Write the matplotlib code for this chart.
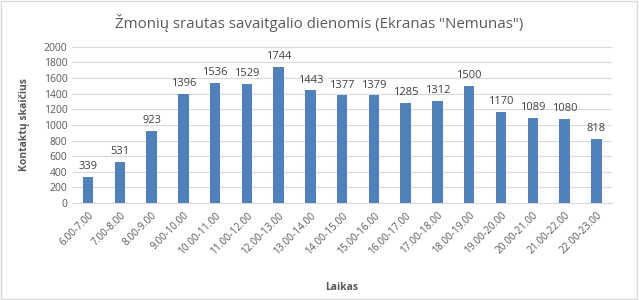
import matplotlib.pyplot as plt

laikas = ['6.00-7.00', '7.00-8.00', '8.00-9.00', '9.00-10.00', '10.00-11.00',
          '11.00-12.00', '12.00-13.00', '13.00-14.00', '14.00-15.00', '15.00-16.00',
          '16.00-17.00', '17.00-18.00', '18.00-19.00', '19.00-20.00', '20.00-21.00',
          '21.00-22.00', '22.00-23.00']
kontaktai = [339, 531, 923, 1396, 1536, 1529, 1744, 1443, 1377, 1379,
             1285, 1312, 1500, 1170, 1089, 1080, 818]

plt.rcParams['font.family'] = ['Open Sans', 'DejaVu Sans']
txt = '#595959'

fig = plt.figure(figsize=(6.39, 3.0), dpi=100)
fig.patches.append(plt.Rectangle((0.002, 0.004), 0.995, 0.992, transform=fig.transFigure,
                                 fill=False, edgecolor='#d9d9d9', linewidth=1))
ax = fig.add_axes([0.113, 0.323, 0.845, 0.521])

x = range(len(laikas))
ax.bar(x, kontaktai, width=0.33, color='#4f81bd', zorder=3)
for xi, v in zip(x, kontaktai):
    ax.text(xi, v + 60, str(v), ha='center', va='bottom', fontsize=8, color='#404040')

ax.set_xlim(-0.5, len(laikas) - 0.5)
ax.set_ylim(0, 2000)
ax.set_yticks(range(0, 2001, 200))
ax.grid(axis='y', color='#d9d9d9', linewidth=0.8, zorder=0)
for s in ['top', 'right', 'left']:
    ax.spines[s].set_visible(False)
ax.spines['bottom'].set_color('#d9d9d9')
ax.tick_params(axis='both', length=0, colors=txt, labelsize=7.5)
ax.tick_params(axis='x', pad=5)
ax.set_xticks(list(x))
ax.set_xticklabels(laikas, rotation=45, ha='right', rotation_mode='anchor', fontsize=7.3)

ax.set_ylabel('Kontaktų skaičius', fontsize=7.5, fontweight='bold', color=txt, labelpad=10)
ax.set_xlabel('Laikas', fontsize=7.5, fontweight='bold', color=txt, labelpad=18)
fig.text(0.5, 0.925, 'Žmonių srautas savaitgalio dienomis (Ekranas "Nemunas")',
         ha='center', va='center', fontsize=10.8, color=txt)

fig.savefig('out.png', dpi=100)
